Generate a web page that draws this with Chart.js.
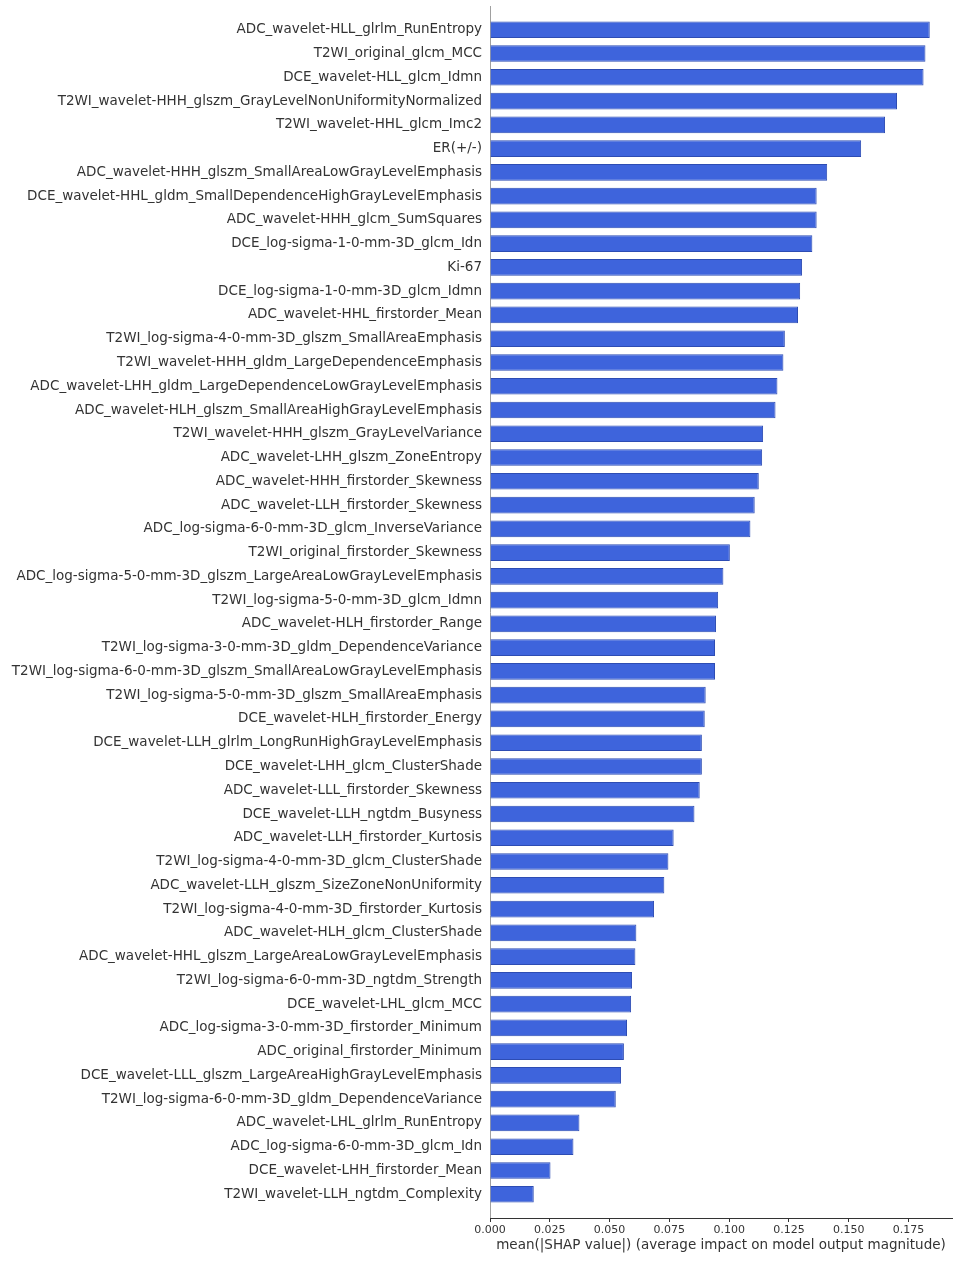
<!DOCTYPE html>
<html>
<head>
<meta charset="utf-8">
<script src="https://cdn.jsdelivr.net/npm/chart.js@4"></script>
<style>
  html, body { margin: 0; padding: 0; background: #fff; }
  #wrap { position: relative; width: 957px; height: 1262px; }
</style>
</head>
<body>
<div id="wrap"><canvas id="shapChart"></canvas></div>
<script>
// Features, top to bottom as in the figure
const features = [
    'ADC_wavelet-HLL_glrlm_RunEntropy',
    'T2WI_original_glcm_MCC',
    'DCE_wavelet-HLL_glcm_Idmn',
    'T2WI_wavelet-HHH_glszm_GrayLevelNonUniformityNormalized',
    'T2WI_wavelet-HHL_glcm_Imc2',
    'ER(+/-)',
    'ADC_wavelet-HHH_glszm_SmallAreaLowGrayLevelEmphasis',
    'DCE_wavelet-HHL_gldm_SmallDependenceHighGrayLevelEmphasis',
    'ADC_wavelet-HHH_glcm_SumSquares',
    'DCE_log-sigma-1-0-mm-3D_glcm_Idn',
    'Ki-67',
    'DCE_log-sigma-1-0-mm-3D_glcm_Idmn',
    'ADC_wavelet-HHL_firstorder_Mean',
    'T2WI_log-sigma-4-0-mm-3D_glszm_SmallAreaEmphasis',
    'T2WI_wavelet-HHH_gldm_LargeDependenceEmphasis',
    'ADC_wavelet-LHH_gldm_LargeDependenceLowGrayLevelEmphasis',
    'ADC_wavelet-HLH_glszm_SmallAreaHighGrayLevelEmphasis',
    'T2WI_wavelet-HHH_glszm_GrayLevelVariance',
    'ADC_wavelet-LHH_glszm_ZoneEntropy',
    'ADC_wavelet-HHH_firstorder_Skewness',
    'ADC_wavelet-LLH_firstorder_Skewness',
    'ADC_log-sigma-6-0-mm-3D_glcm_InverseVariance',
    'T2WI_original_firstorder_Skewness',
    'ADC_log-sigma-5-0-mm-3D_glszm_LargeAreaLowGrayLevelEmphasis',
    'T2WI_log-sigma-5-0-mm-3D_glcm_Idmn',
    'ADC_wavelet-HLH_firstorder_Range',
    'T2WI_log-sigma-3-0-mm-3D_gldm_DependenceVariance',
    'T2WI_log-sigma-6-0-mm-3D_glszm_SmallAreaLowGrayLevelEmphasis',
    'T2WI_log-sigma-5-0-mm-3D_glszm_SmallAreaEmphasis',
    'DCE_wavelet-HLH_firstorder_Energy',
    'DCE_wavelet-LLH_glrlm_LongRunHighGrayLevelEmphasis',
    'DCE_wavelet-LHH_glcm_ClusterShade',
    'ADC_wavelet-LLL_firstorder_Skewness',
    'DCE_wavelet-LLH_ngtdm_Busyness',
    'ADC_wavelet-LLH_firstorder_Kurtosis',
    'T2WI_log-sigma-4-0-mm-3D_glcm_ClusterShade',
    'ADC_wavelet-LLH_glszm_SizeZoneNonUniformity',
    'T2WI_log-sigma-4-0-mm-3D_firstorder_Kurtosis',
    'ADC_wavelet-HLH_glcm_ClusterShade',
    'ADC_wavelet-HHL_glszm_LargeAreaLowGrayLevelEmphasis',
    'T2WI_log-sigma-6-0-mm-3D_ngtdm_Strength',
    'DCE_wavelet-LHL_glcm_MCC',
    'ADC_log-sigma-3-0-mm-3D_firstorder_Minimum',
    'ADC_original_firstorder_Minimum',
    'DCE_wavelet-LLL_glszm_LargeAreaHighGrayLevelEmphasis',
    'T2WI_log-sigma-6-0-mm-3D_gldm_DependenceVariance',
    'ADC_wavelet-LHL_glrlm_RunEntropy',
    'ADC_log-sigma-6-0-mm-3D_glcm_Idn',
    'DCE_wavelet-LHH_firstorder_Mean',
    'T2WI_wavelet-LLH_ngtdm_Complexity'
];

// mean(|SHAP value|)
const shapValues = [
    0.1839, 0.1821, 0.1813, 0.1702, 0.1652, 0.1552, 0.1410, 0.1366, 0.1366, 0.1348,
    0.1305, 0.1297, 0.1288, 0.1233, 0.1227, 0.1202, 0.1194, 0.1142, 0.1138, 0.1124,
    0.1107, 0.1089, 0.1003, 0.0976, 0.0954, 0.0945, 0.0941, 0.0941, 0.0902, 0.0898,
    0.0886, 0.0886, 0.0877, 0.0855, 0.0768, 0.0746, 0.0729, 0.0686, 0.0612, 0.0608,
    0.0594, 0.0590, 0.0573, 0.0560, 0.0548, 0.0526, 0.0374, 0.0349, 0.0253, 0.0183
];

const xTicks = [0, 0.025, 0.05, 0.075, 0.1, 0.125, 0.15, 0.175];
const xMax = 0.1932;
const xTitle = 'mean(|SHAP value|) (average impact on model output magnitude)';

const FONT = "'DejaVu Sans', sans-serif";
const TEXT = '#333333';

// bars sit on a numeric index axis so the axis can run half a row past the ends
const points = shapValues.map((v, i) => ({ x: v, y: i }));

const ctx = document.getElementById('shapChart');
new Chart(ctx, {
    type: 'bar',
    data: {
        datasets: [{
            data: points,
            backgroundColor: '#3e64dc',
            borderColor: '#2d4cb3',
            borderWidth: 1,
            barPercentage: 0.7,
            categoryPercentage: 1
        }]
    },
    options: {
        indexAxis: 'y',
        responsive: true,
        maintainAspectRatio: false,
        animation: false,
        layout: { padding: { top: 6, right: 5, bottom: 0, left: 0 } },
        plugins: {
            legend: { display: false },
            tooltip: { enabled: false }
        },
        scales: {
            y: {
                type: 'linear',
                reverse: true,
                offset: false,
                min: -1,
                max: features.length,
                afterFit: (scale) => {
                    scale.width = 490;
                    scale.paddingTop = 0;
                    scale.paddingBottom = 0;
                },
                grid: { display: false, drawTicks: false },
                border: { display: true, color: '#a0a0a0', width: 1 },
                ticks: {
                    stepSize: 1,
                    autoSkip: false,
                    padding: 8,
                    color: TEXT,
                    font: { family: FONT, size: 13.5 },
                    callback: (v) => features[v] !== undefined ? features[v] : ''
                }
            },
            x: {
                type: 'linear',
                min: 0,
                max: xMax,
                afterFit: (scale) => { scale.height = 44; },
                afterBuildTicks: (scale) => {
                    scale.ticks = xTicks.map(v => ({ value: v }));
                },
                grid: {
                    drawOnChartArea: false,
                    drawTicks: true,
                    tickLength: 4,
                    color: TEXT
                },
                border: { display: true, color: TEXT, width: 1 },
                ticks: {
                    padding: 2,
                    color: TEXT,
                    font: { family: FONT, size: 11 },
                    callback: (v) => Number(v).toFixed(3)
                },
                title: {
                    display: true,
                    text: xTitle,
                    color: TEXT,
                    font: { family: FONT, size: 13.5 },
                    padding: { top: 2, bottom: 8 }
                }
            }
        }
    }
});
</script>
</body>
</html>
